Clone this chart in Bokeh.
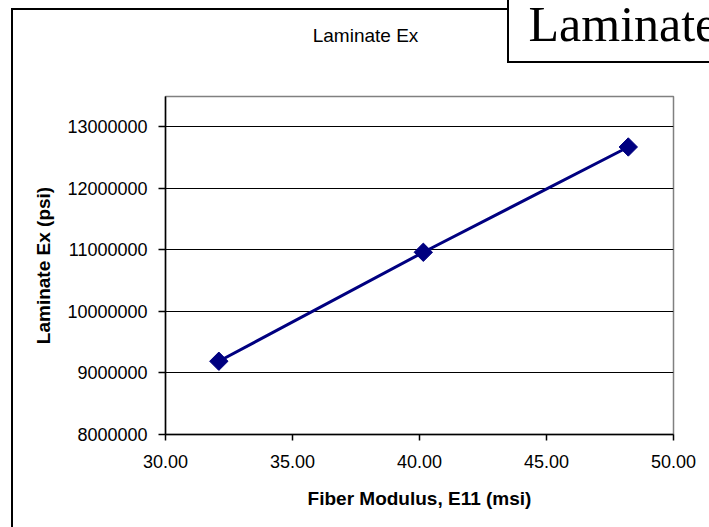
from math import pi

from bokeh.embed import file_html
from bokeh.models import FixedTicker, Label, NumeralTickFormatter, Range1d
from bokeh.plotting import figure
from bokeh.resources import INLINE

# Fiber modulus (msi) against laminate Ex (psi)
fiber_modulus = [32.10, 40.15, 48.22]
laminate_ex = [9190000, 10960000, 12670000]

x_ticks = [30, 35, 40, 45, 50]
y_ticks = [8000000, 9000000, 10000000, 11000000, 12000000, 13000000]

W, H = 709, 527
FL, FR, FT, FB = 165, 673, 96, 434   # plot-area edges in canvas pixels

p = figure(width=W, height=H, output_backend="svg", toolbar_location=None,
           x_range=Range1d(30, 50), y_range=Range1d(8000000, 13490000),
           min_border_left=FL, min_border_right=W - FR,
           min_border_top=FT, min_border_bottom=H - FB)
p.background_fill_color = "white"
p.outline_line_color = "#808080"
p.outline_line_width = 1.5

# The border area is left transparent so the element's own background,
# which carries the chart-area frame and the text-box edges, shows through.
p.border_fill_alpha = 0
p.styles = {
    "background": (
        "linear-gradient(#000,#000) 11px 8px / 2px 100% no-repeat,"
        "linear-gradient(#000,#000) 11px 8px / 496px 2px no-repeat,"
        "linear-gradient(#000,#000) 507px 0px / 2px 63px no-repeat,"
        "linear-gradient(#000,#000) 507px 61px / 100% 2px no-repeat,"
        "#ffffff"
    )
}

SANS = "Liberation Sans"

# axes
for ax in (p.xaxis, p.yaxis):
    ax.axis_line_color = "black"
    ax.axis_line_width = 1.5
    ax.major_tick_line_color = "black"
    ax.major_tick_line_width = 1.5
    ax.major_tick_in = 0
    ax.minor_tick_line_color = None
    ax.major_label_text_font = SANS
    ax.major_label_text_font_size = "18px"
    ax.major_label_text_color = "black"
    ax.axis_label_text_font = SANS
    ax.axis_label_text_font_size = "19px"
    ax.axis_label_text_font_style = "bold"
    ax.axis_label_text_color = "black"

p.xaxis.ticker = FixedTicker(ticks=x_ticks)
p.xaxis.formatter = NumeralTickFormatter(format="0.00")
p.xaxis.major_tick_out = 6
p.xaxis.major_label_standoff = 14
p.xaxis.axis_label = "Fiber Modulus, E11 (msi)"
p.xaxis.axis_label_standoff = 17

p.yaxis.ticker = FixedTicker(ticks=y_ticks)
p.yaxis.formatter = NumeralTickFormatter(format="0")
p.yaxis.major_tick_out = 7
p.yaxis.major_label_standoff = 11
p.yaxis.axis_label = "Laminate Ex (psi)"
p.yaxis.axis_label_standoff = 10

p.xgrid.grid_line_color = None
p.ygrid.ticker = FixedTicker(ticks=y_ticks)
p.ygrid.grid_line_color = "black"
p.ygrid.grid_line_width = 1

# series
p.line(fiber_modulus, laminate_ex, line_color="#000080", line_width=3)
p.scatter(fiber_modulus, laminate_ex, marker="square", angle=pi / 4, size=13,
          fill_color="#000080", line_color="#000080")


# Labels live in the "above" panel so they are not clipped to the plot area;
# screen x counts from the plot-area left edge and screen y counts upward
# from the bottom of each label's slot in the panel.
def px(cx):
    return cx - FL


def py(cy, slot_offset=0):
    return FT - cy - slot_offset


# chart title (first slot, directly above the plot area)
p.add_layout(Label(x=px(365), y=py(35), x_units="screen", y_units="screen",
                   text="Laminate Ex", text_font=SANS, text_font_size="19px",
                   text_align="center", text_baseline="middle",
                   text_color="black"), "above")

# large caption inside the upper-right text box (second slot, stacked above
# the title's slot)
p.add_layout(Label(x=px(528), y=py(23, slot_offset=21), x_units="screen",
                   y_units="screen",
                   text="Laminate Ex", text_font="Liberation Serif",
                   text_font_size="50px", text_align="left",
                   text_baseline="middle", text_color="black"), "above")

open("out.html", "w").write(file_html(p, INLINE))
